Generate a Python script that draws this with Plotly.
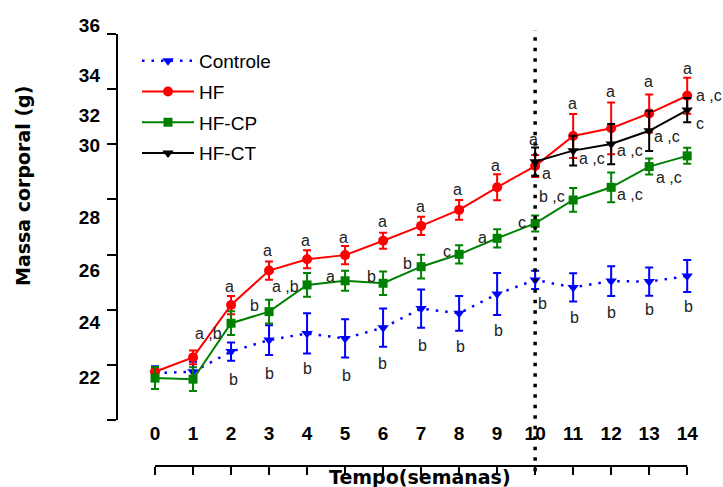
import plotly.graph_objects as go

# ---------------- data ----------------
weeks = list(range(15))
controle = [21.70, 21.75, 22.48, 22.90, 23.14, 22.96, 23.35, 24.04, 23.87, 24.57, 25.08, 24.81, 25.04, 25.02, 25.22]
controle_err = [0.25, 0.36, 0.33, 0.54, 0.73, 0.69, 0.69, 0.69, 0.63, 0.76, 0.33, 0.51, 0.54, 0.51, 0.58]
hf = [21.75, 22.27, 24.17, 25.42, 25.83, 25.98, 26.50, 27.04, 27.62, 28.44, 29.21, 30.30, 30.58, 31.12, 31.76]
hf_err = [0.12, 0.25, 0.33, 0.33, 0.33, 0.33, 0.29, 0.33, 0.36, 0.47, 0.40, 0.80, 0.94, 0.69, 0.65]
hfcp = [21.52, 21.48, 23.51, 23.93, 24.90, 25.05, 24.96, 25.56, 26.01, 26.59, 27.13, 27.98, 28.44, 29.19, 29.58]
hfcp_err = [0.40, 0.43, 0.43, 0.43, 0.43, 0.36, 0.43, 0.43, 0.33, 0.33, 0.29, 0.43, 0.54, 0.29, 0.29]
ct_weeks = [10, 11, 12, 13, 14]
hfct = [29.37, 29.77, 30.01, 30.49, 31.24]
hfct_err = [0.51, 0.54, 0.73, 0.73, 0.44]

series_names = ["Controle", "HF", "HF-CP", "HF-CT"]
ytick_marks = [20, 22, 24, 26, 28, 30, 32, 34]
ytick_text = ["22", "24", "26", "28", "30", "32", "34", "36"]
ytick_text_pos = [21.56, 23.55, 25.44, 27.36, 29.97, 31.06, 32.51, 34.33]
xtick_text = [str(w) for w in weeks]
treatment_week = 10

# significance letters: (series, week, text, x shift px, y shift px (down positive))
letters = [
    ("HF", 2, "a", -2, -19), ("HF", 3, "a", -2, -20), ("HF", 4, "a", -2, -19),
    ("HF", 5, "a", -2, -18), ("HF", 6, "a", -1, -19), ("HF", 7, "a", -1, -19),
    ("HF", 8, "a", -2, -20), ("HF", 9, "a", -2, -22), ("HF", 10, "a", -2, -27),
    ("HF", 10, "a", 11, 7), ("HF", 11, "a", -1, -33), ("HF", 12, "a", -1, -37),
    ("HF", 13, "a", -1, -32), ("HF", 14, "a", 0, -27), ("HF", 14, "a ,c", 22, 0),
    ("HF-CT", 11, "a ,c", 19, 8), ("HF-CT", 12, "a ,c", 19, 6),
    ("HF-CT", 13, "a ,c", 18, 6), ("HF-CT", 14, "c", 13, 13),
    ("HF-CP", 2, "a ,b", -23, 10), ("HF-CP", 3, "b", -15, -6), ("HF-CP", 4, "a ,b", -22, 2),
    ("HF-CP", 5, "a", -15, -4), ("HF-CP", 6, "b", -12, -7), ("HF-CP", 7, "b", -14, -3),
    ("HF-CP", 8, "c", -12, -3), ("HF-CP", 9, "a", -15, -1), ("HF-CP", 10, "c", -13, -1),
    ("HF-CP", 11, "b ,c", -21, -3), ("HF-CP", 12, "a ,c", 19, 7), ("HF-CP", 13, "a ,c", 20, 11),
    ("Controle", 2, "b", 2, 28), ("Controle", 3, "b", 0, 33), ("Controle", 4, "b", 0, 35),
    ("Controle", 5, "b", 1, 37), ("Controle", 6, "b", -1, 36), ("Controle", 7, "b", 1, 37),
    ("Controle", 8, "b", 1, 33), ("Controle", 9, "b", 1, 36), ("Controle", 10, "b", 7, 24),
    ("Controle", 11, "b", 1, 30), ("Controle", 12, "b", 0, 31), ("Controle", 13, "b", 0, 28),
    ("Controle", 14, "b", 1, 30),
]

# ---------------- figure ----------------
FONT = "Liberation Sans, Arial, sans-serif"
TITLE_FONT = "DejaVu Sans, Liberation Sans, sans-serif"

W, H = 723, 487
ML, MT = 117, 20            # plot area: x 117.., y 20..466
PLOT_H = 446
PX_PER_WEEK = 38.0
X_LO, X_HI = -1, 14.6
PLOT_W = (X_HI - X_LO) * PX_PER_WEEK
MR = W - ML - PLOT_W
MB = H - MT - PLOT_H

series = {
    "Controle": (weeks, controle, controle_err, "blue", "triangle-down", "2.5px,7px", 2.5, 10),
    "HF": (weeks, hf, hf_err, "red", "circle", "solid", 2, 10),
    "HF-CP": (weeks, hfcp, hfcp_err, "green", "square", "solid", 2, 9),
    "HF-CT": (ct_weeks, hfct, hfct_err, "black", "triangle-down", "solid", 2, 10),
}

fig = go.Figure()
for name in series_names:
    xs, ys, es, col, sym, dash, lw, ms = series[name]
    fig.add_trace(go.Scatter(
        x=xs, y=ys, name=name, mode="lines+markers", legendgroup=name,
        line=dict(color=col, width=lw, dash=dash),
        marker=dict(color=col, symbol=sym, size=ms),
        error_y=dict(type="data", array=es, visible=True, color=col, thickness=2, width=4),
    ))

lookup = {n: dict(zip(series[n][0], series[n][1])) for n in series_names}
annotations = []
for name, w, txt, dx, dy in letters:
    annotations.append(dict(
        x=w, y=lookup[name][w], xref="x", yref="y", text=txt, showarrow=False,
        xanchor="center", yanchor="middle", xshift=dx, yshift=-dy,
        font=dict(family=FONT, size=16, color="#222"),
    ))

annotations.append(dict(
    x=(420 - 117) / PLOT_W, y=0, xref="paper", yref="paper", text="<b>Tempo(semanas)</b>",
    showarrow=False, xanchor="center", yanchor="middle", yshift=-11,
    font=dict(family=TITLE_FONT, size=19, color="black"),
))
annotations.append(dict(
    x=0, y=(466 - 186) / PLOT_H, xref="paper", yref="paper", text="<b>Massa corporal (g)</b>",
    showarrow=False, xanchor="center", yanchor="middle", xshift=-94, textangle=-90,
    font=dict(family=TITLE_FONT, size=19, color="black"),
))

PXG = 386 / 14.0
y_lo = 20 - 46 / PXG
y_hi = 34 + 14 / PXG

fig.update_layout(
    width=W, height=H,
    margin=dict(l=ML, r=MR, t=MT, b=MB, autoexpand=False),
    plot_bgcolor="white", paper_bgcolor="white",
    font=dict(family=FONT, color="black"),
    showlegend=True,
    legend=dict(
        x=(137 - 117) / PLOT_W, xanchor="left", y=(466 - 42) / PLOT_H, yanchor="top",
        font=dict(family=FONT, size=19, color="black"),
        itemwidth=52, tracegroupgap=3, bgcolor="rgba(0,0,0,0)",
    ),
    xaxis=dict(
        range=[X_LO, X_HI], tickvals=weeks, ticktext=xtick_text,
        ticks="outside", ticklen=8, tickwidth=2, tickcolor="black",
        ticklabelposition="inside", ticklabelstandoff=19,
        tickfont=dict(family=FONT, size=19, color="black", weight="bold"),
        showline=False, showgrid=False, zeroline=False, automargin=False,
    ),
    yaxis=dict(
        range=[y_lo, y_hi], tickvals=ytick_marks, showticklabels=False,
        ticks="outside", ticklen=9, tickwidth=2, tickcolor="black",
        showline=False, showgrid=False, zeroline=False, automargin=False,
    ),
    yaxis2=dict(
        range=[y_lo, y_hi], overlaying="y", side="left",
        tickvals=ytick_text_pos, ticktext=ytick_text, ticks="",
        ticklabelstandoff=16,
        tickfont=dict(family=FONT, size=19, color="black", weight="bold"),
        showline=False, showgrid=False, zeroline=False, automargin=False,
    ),
    annotations=annotations,
    shapes=[
        dict(type="line", xref="paper", yref="y", x0=0, x1=0, y0=20, y1=34,
             line=dict(color="black", width=2)),
        dict(type="line", xref="x", yref="paper", x0=0, x1=14, y0=0, y1=0,
             line=dict(color="black", width=2)),
        dict(type="line", xref="x", yref="paper", x0=treatment_week, x1=treatment_week,
             y0=-0.012, y1=(466 - 30) / PLOT_H,
             line=dict(color="black", width=3.5, dash="3.5px,7px")),
    ],
)
# empty trace so the label axis is drawn
fig.add_trace(go.Scatter(x=[None], y=[None], yaxis="y2", showlegend=False, hoverinfo="skip"))

# remove the page's default body margin so the 723x487 figure fills the window exactly
fig.write_html(
    "out.html",
    config={"displayModeBar": False},
    post_script="document.body.style.margin='0';document.body.style.overflow='hidden';",
)
